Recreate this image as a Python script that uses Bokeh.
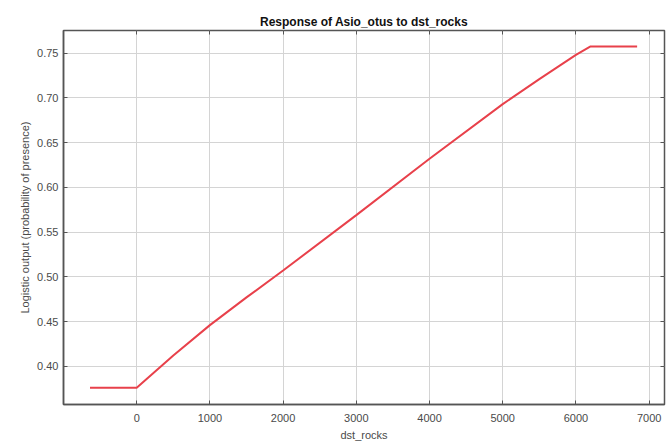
from bokeh.plotting import figure
from bokeh.models import LinearAxis, FixedTicker, Range1d, NumeralTickFormatter
from bokeh.embed import file_html
from bokeh.resources import INLINE

# data
dst_rocks = [-638, 0, 500, 1000, 1500, 2000, 3000, 4000, 5000, 5500, 6000, 6200, 6836]
logistic_output = [0.376, 0.376, 0.412, 0.446, 0.477, 0.507, 0.569, 0.632, 0.693,
                   0.721, 0.748, 0.7575, 0.7575]
x_ticks = [0, 1000, 2000, 3000, 4000, 5000, 6000, 7000]
y_ticks = [0.40, 0.45, 0.50, 0.55, 0.60, 0.65, 0.70, 0.75]

FONT = "Liberation Sans"
GRAY = "#555555"

p = figure(width=671, height=447, output_backend="svg", toolbar_location=None,
           x_range=Range1d(-1000, 7210), y_range=Range1d(0.3573, 0.7753),
           title="Response of Asio_otus to dst_rocks",
           min_border_left=63, min_border_right=7, min_border_top=30, min_border_bottom=43)

p.title.align = "center"
p.title.text_font = FONT
p.title.text_font_size = "12px"
p.title.text_font_style = "bold"
p.title.text_color = "#111111"
p.title.offset = 0
p.title.standoff = 4

p.outline_line_color = GRAY
p.outline_line_width = 1.5
p.background_fill_color = "white"
p.border_fill_color = "white"

p.line(dst_rocks, logistic_output, line_color="#e8414b", line_width=2)

for ax in (p.xaxis[0], p.yaxis[0]):
    ax.major_tick_in = 4
    ax.major_tick_out = 0
    ax.minor_tick_in = 0
    ax.minor_tick_out = 0
    ax.axis_line_color = GRAY
    ax.axis_line_width = 1.5
    ax.major_tick_line_color = GRAY
    ax.major_label_text_font = FONT
    ax.major_label_text_font_size = "11px"
    ax.major_label_text_color = "#4a4a4a"
    ax.axis_label_text_font = FONT
    ax.axis_label_text_font_size = "11px"
    ax.axis_label_text_font_style = "normal"
    ax.axis_label_text_color = "#4a4a4a"

p.xaxis[0].ticker = FixedTicker(ticks=x_ticks)
p.yaxis[0].ticker = FixedTicker(ticks=y_ticks)
p.yaxis[0].formatter = NumeralTickFormatter(format="0.00")
p.xaxis[0].axis_label = "dst_rocks"
p.yaxis[0].axis_label = "Logistic output (probability of presence)"
p.xaxis[0].major_label_standoff = 9
p.xaxis[0].axis_label_standoff = 4
p.yaxis[0].major_label_standoff = 5
p.yaxis[0].axis_label_standoff = 3

p.xgrid[0].ticker = FixedTicker(ticks=x_ticks)
p.ygrid[0].ticker = FixedTicker(ticks=y_ticks)
for g in (p.xgrid[0], p.ygrid[0]):
    g.grid_line_color = "#d4d4d4"
    g.grid_line_width = 1

# inward ticks on top and right (no labels)
top = LinearAxis(ticker=FixedTicker(ticks=x_ticks),
                 major_label_overrides={t: "" for t in x_ticks},
                 major_tick_in=4, major_tick_out=0, minor_tick_in=0, minor_tick_out=0,
                 axis_line_alpha=0, major_tick_line_color=GRAY, major_label_standoff=0)
right = LinearAxis(ticker=FixedTicker(ticks=y_ticks),
                   major_label_overrides={t: "" for t in y_ticks},
                   major_tick_in=4, major_tick_out=0, minor_tick_in=0, minor_tick_out=0,
                   axis_line_alpha=0, major_tick_line_color=GRAY, major_label_standoff=0)
p.add_layout(top, "above")
p.add_layout(right, "right")

open("out.html", "w").write(file_html(p, INLINE))
